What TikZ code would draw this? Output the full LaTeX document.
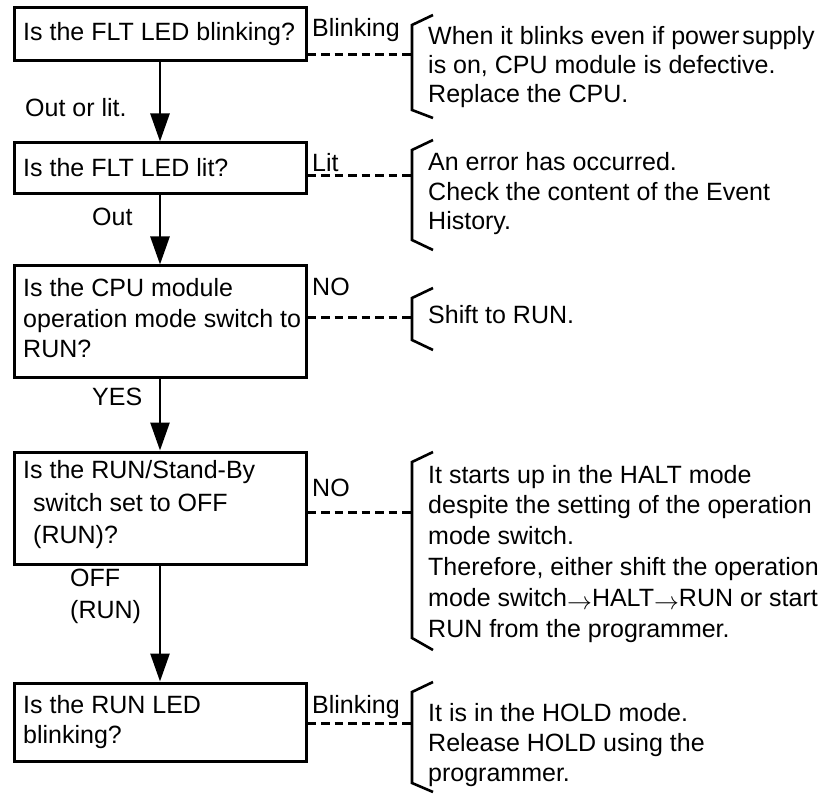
\documentclass[tikz,border=0pt]{standalone}
\usepackage{fontspec}
\setmainfont{Liberation Sans}
\usetikzlibrary{arrows.meta}
\newcommand\mlt[2]{\fontsize{25}{#1}\selectfont\begin{tabular}[t]{@{}l@{}}#2\end{tabular}}
\newcommand\arr{\raisebox{-3.5pt}{$\rightarrow$}}
\begin{document}
\begin{tikzpicture}[x=1pt,y=-1pt,
  box/.style={draw, line width=3pt, minimum width=292pt, inner sep=0pt},
  txt/.style={anchor=base west, inner sep=0pt, font=\fontsize{25}{30}\selectfont},
  flow/.style={line width=2.6pt, -{Triangle[length=28pt,width=19pt]}},
  dash line/.style={line width=3pt, dash pattern=on 8.5pt off 5pt},
  brk/.style={line width=2.6pt, line join=miter}]
\useasboundingbox (0,0) rectangle (825,794);

% boxes
\node[box, minimum height=53pt] (b1) at (160,34.5) {};
\node[box, minimum height=51pt] (b2) at (160,168.5) {};
\node[box, minimum height=112pt] (b3) at (160,322) {};
\node[box, minimum height=112pt] (b4) at (160,508) {};
\node[box, minimum height=78pt] (b5) at (160,722) {};

% box texts
\node[txt] (t1) at (23,41) {Is the FLT LED blinking?};
\node[txt] (t2) at (23,177) {Is the FLT LED lit?};
\node[txt] (t3) at (23,297) {\mlt{30.5}{Is the CPU module\\operation mode switch to\\RUN?}};
\node[txt] (t4) at (23,478) {\mlt{33}{Is the RUN/Stand-By\\\hspace*{10pt}switch set to OFF\\\hspace*{10pt}(RUN)?}};
\node[txt] (t5) at (23,713) {\mlt{30}{Is the RUN LED\\blinking?}};

% flow arrows
\draw[flow] (b1) -- (b2);
\draw[flow] (b2) -- (b3);
\draw[flow] (b3) -- (b4);
\draw[flow] (b4) -- (b5);

% arrow labels
\node[txt] (l1) at (25,117) {Out or lit.};
\node[txt] (l2) at (92,226) {Out};
\node[txt] (l3) at (92,406) {YES};
\node[txt] (l4) at (70,586) {\mlt{32}{OFF\\(RUN)}};

% side labels
\node[txt] (s1) at (312,37) {Blinking};
\node[txt] (s2) at (312,172) {Lit};
\node[txt] (s3) at (312,296) {NO};
\node[txt] (s4) at (312,496) {NO};
\node[txt] (s5) at (312,713) {Blinking};

% dashed connectors
\coordinate (c1) at (412,55);
\coordinate (c2) at (412,176);
\coordinate (c3) at (412,318);
\coordinate (c4) at (412,512);
\coordinate (c5) at (412,723);
\draw[dash line] (b1.east |- c1) -- (c1);
\draw[dash line] (b2.east |- c2) -- (c2);
\draw[dash line] (b3.east |- c3) -- (c3);
\draw[dash line] (b4.east |- c4) -- (c4);
\draw[dash line] (b5.east |- c5) -- (c5);

% brackets
\draw[brk] (433,15) -- (412,25) -- (412,110) -- (433,118);
\draw[brk] (433,140) -- (412,150) -- (412,240) -- (433,250);
\draw[brk] (433,288) -- (412,298) -- (412,340) -- (433,350);
\draw[brk] (433,452) -- (412,462) -- (412,638) -- (433,650);
\draw[brk] (433,682) -- (412,692) -- (412,783) -- (433,792);

% result texts
\node[txt] (r1) at (428,45) {\mlt{29}{When it blinks even if power\kern3pt supply\\is on, CPU module is defective.\\Replace the CPU.}};
\node[txt] (r2) at (428,171) {\mlt{29.5}{An error has occurred.\\Check the content of the Event\\History.}};
\node[txt] (r3) at (428,324) {Shift to RUN.};
\node[txt] (r4) at (428,483) {\mlt{30.8}{It starts up in the HALT mode\\despite the setting of the operation\\mode switch.\\Therefore, either shift the operation\\mode switch\arr HALT\arr RUN or start\\RUN from the programmer.}};
\node[txt] (r5) at (428,721) {\mlt{30}{It is in the HOLD mode.\\Release HOLD using the\\programmer.}};
\end{tikzpicture}
\end{document}
